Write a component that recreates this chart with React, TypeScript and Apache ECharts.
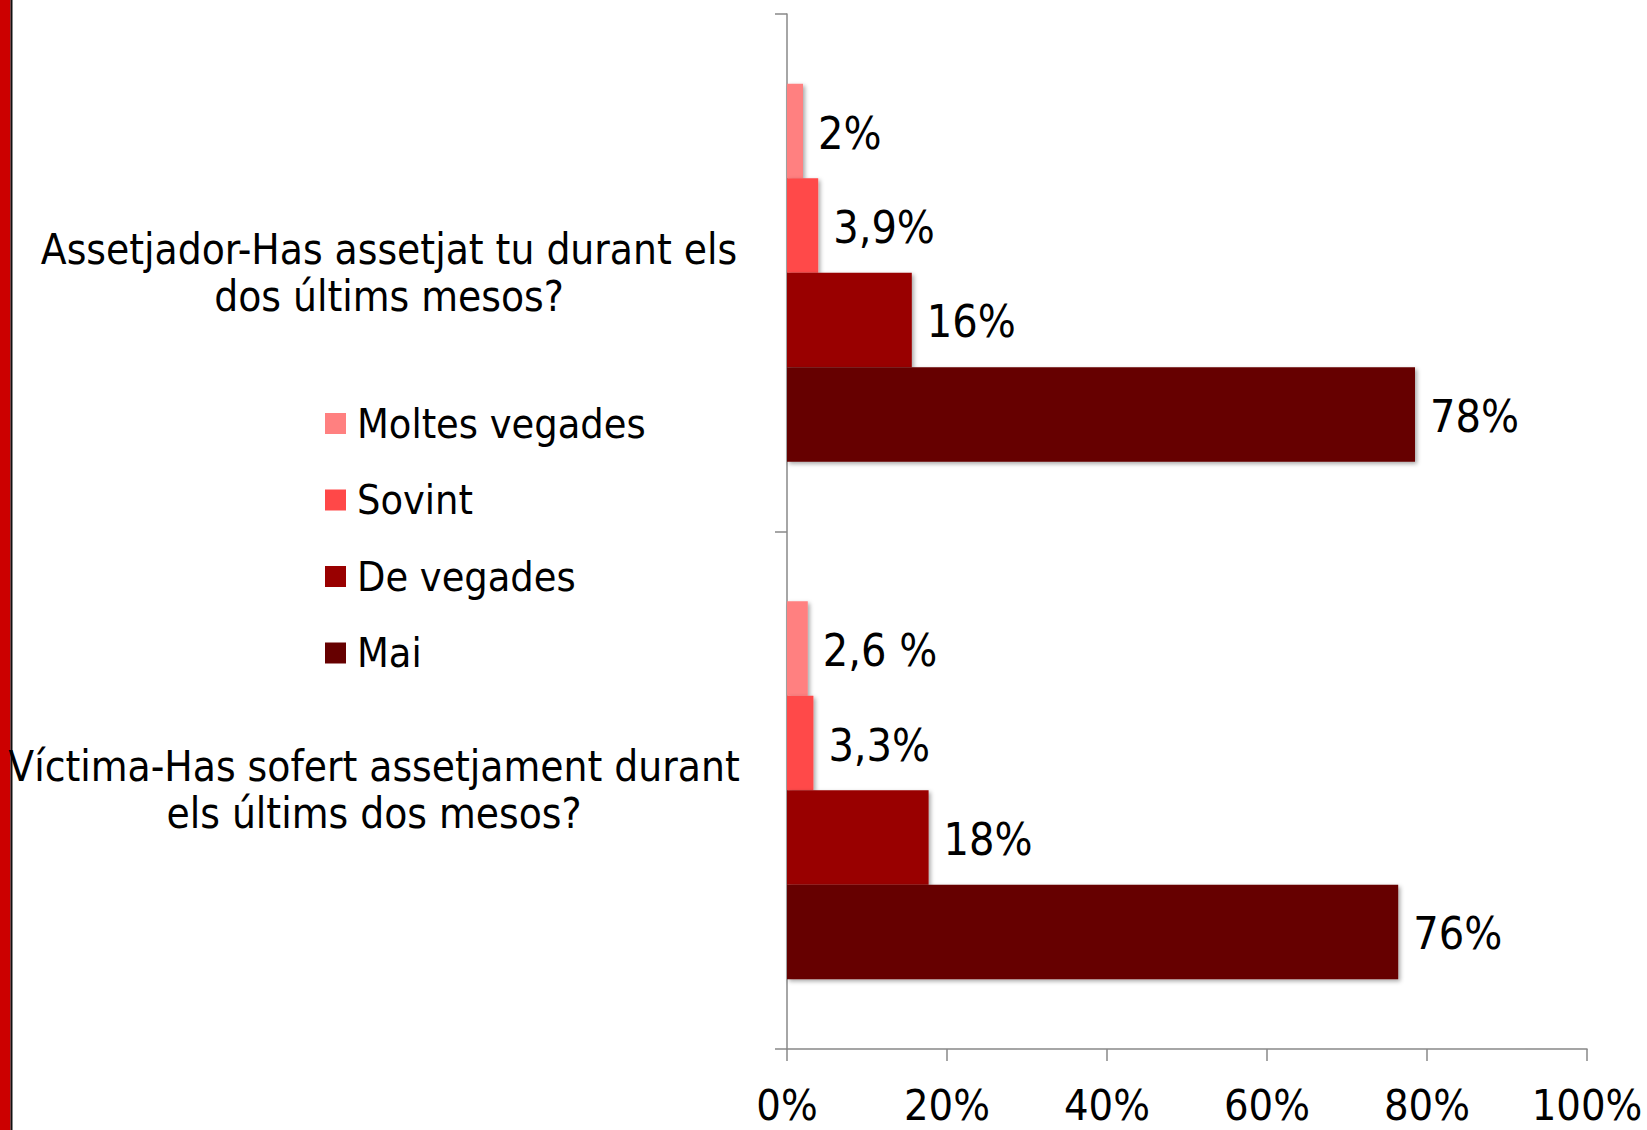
import React, { useEffect, useRef } from "react";
import * as echarts from "echarts";

const categories = [
  "Assetjador-Has assetjat tu durant els\ndos últims mesos?",
  "Víctima-Has sofert assetjament durant\nels últims dos mesos?",
];
const seriesNames = ["Moltes vegades", "Sovint", "De vegades", "Mai"];
const seriesColors = ["#FF8080", "#FF4848", "#990000", "#660000"];
const moltesValues = [2.0, 2.6];
const sovintValues = [3.9, 3.3];
const deVegadesValues = [15.6, 17.7];
const maiValues = [78.5, 76.4];
const moltesLabels = ["2%", "2,6 %"];
const sovintLabels = ["3,9%", "3,3%"];
const deVegadesLabels = ["16%", "18%"];
const maiLabels = ["78%", "76%"];
const xTicks = [0, 20, 40, 60, 80, 100];

const FONT = "'DejaVu Sans Condensed', 'DejaVu Sans', sans-serif";

export default function App() {
  const ref = useRef<HTMLDivElement>(null);
  useEffect(() => {
    document.body.style.margin = "0";
    const chart = echarts.init(ref.current!, null, { renderer: "svg" });
    const values = [moltesValues, sovintValues, deVegadesValues, maiValues];
    const labels = [moltesLabels, sovintLabels, deVegadesLabels, maiLabels];
    const labelWidths = [698, 728];
    chart.setOption({
      animation: false,
      textStyle: { fontFamily: FONT },
      graphic: [
        { type: "rect", left: 0, top: 0, shape: { width: 10.5, height: 1130 }, style: { fill: "#CC0000" } },
        { type: "rect", left: 10.5, top: 0, shape: { width: 2, height: 1130 }, style: { fill: "#111111" } },
      ],
      legend: {
        orient: "vertical",
        left: 320,
        top: 398,
        icon: "rect",
        itemWidth: 21,
        itemHeight: 21,
        itemGap: 35.5,
        data: seriesNames,
        selectedMode: false,
        textStyle: { fontFamily: FONT, fontSize: 41, color: "#000", lineHeight: 40, padding: [0, 0, 0, 6] },
      },
      grid: { left: 787, right: 60, top: 14, bottom: 81, containLabel: false },
      xAxis: {
        type: "value",
        min: xTicks[0],
        max: xTicks[xTicks.length - 1],
        interval: 20,
        splitLine: { show: false },
        axisLine: { show: true, lineStyle: { color: "#888", width: 1.5 } },
        axisTick: { show: true, length: 12, lineStyle: { color: "#888", width: 1.5 } },
        axisLabel: { formatter: "{value}%", fontSize: 43, lineHeight: 43, color: "#000", fontFamily: FONT, margin: 34 },
      },
      yAxis: {
        type: "category",
        inverse: true,
        data: categories,
        axisLine: { show: true, lineStyle: { color: "#888", width: 1.5 } },
        axisTick: { show: true, length: 12, lineStyle: { color: "#888", width: 1.5 } },
        axisLabel: {
          margin: 49,
          align: "right",
          formatter: (v: string, i: number) =>
            v
              .split("\n")
              .map((l) => `{${i === 0 ? "a" : "b"}|${l}}`)
              .join("\n"),
          rich: {
            a: { width: labelWidths[0], align: "center", fontSize: 42, lineHeight: 47, fontFamily: FONT, color: "#000" },
            b: { width: labelWidths[1], align: "center", fontSize: 42, lineHeight: 47, fontFamily: FONT, color: "#000" },
          },
        },
      },
      series: seriesNames.map((name, s) => ({
        name,
        type: "bar",
        data: values[s],
        barGap: "0%",
        barCategoryGap: "27%",
        itemStyle: {
          color: seriesColors[s],
          shadowBlur: 4,
          shadowOffsetX: 2,
          shadowOffsetY: 2,
          shadowColor: "rgba(0,0,0,0.35)",
        },
        label: {
          show: true,
          position: "right",
          distance: 15,
          fontSize: 44.5,
          color: "#000",
          fontFamily: FONT,
          offset: [0, 2],
          formatter: (p: any) => labels[s][p.dataIndex],
        },
      })),
    });
    return () => chart.dispose();
  }, []);
  return <div ref={ref} style={{ width: 1647, height: 1130 }} />;
}
